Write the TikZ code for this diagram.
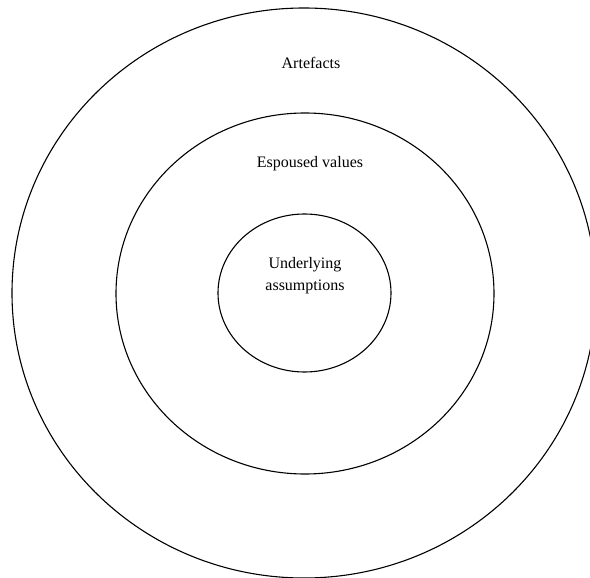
\documentclass[tikz,border=0pt]{standalone}
\usepackage{fontspec}
\setmainfont{Liberation Serif}
\begin{document}
\begin{tikzpicture}[x=1pt,y=-1pt,
  ring/.style={draw=black,line width=1.1pt},
  lbl/.style={font=\fontsize{16}{22}\selectfont,align=center,inner sep=0pt}]
\useasboundingbox (0,0) rectangle (590,578);
\begin{scope}
\clip (0,0) rectangle (590,578);
\draw[ring] (304,293) ellipse [x radius=292, y radius=285];
\end{scope}
\draw[ring] (305,293.5) ellipse [x radius=189, y radius=180.5];
\draw[ring] (304.5,293) ellipse [x radius=86.5, y radius=79];
\node[lbl] (art) at (311,63) {Artefacts};
\node[lbl] (esp) at (310,164) {Espoused values};
\node[lbl] (und) at (305,276) {Underlying\\assumptions};
\end{tikzpicture}
\end{document}
